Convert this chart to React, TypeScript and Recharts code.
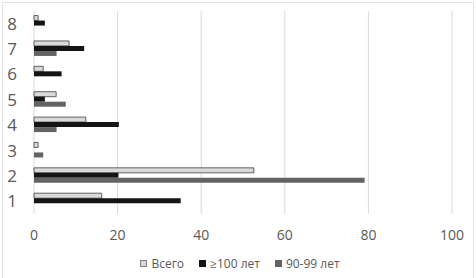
import React from 'react';
import { BarChart, Bar, XAxis, YAxis, CartesianGrid } from 'recharts';

const categories = ['1', '2', '3', '4', '5', '6', '7', '8'];
const vsego = [16.2, 52.6, 1, 12.4, 5.3, 2.2, 8.4, 1];
const over100 = [35.1, 20.2, 0, 20.3, 2.6, 6.6, 12, 2.6];
const age9099 = [0, 79.1, 2.2, 5.4, 7.6, 0, 5.4, 0];
const xTicks = [0, 20, 40, 60, 80, 100];

const seriesNames = ['Всего', '≥100 лет', '90-99 лет'];
const seriesColors = ['#d9d9d9', '#141414', '#636363'];
const seriesStrokes = ['#404040', 'none', 'none'];

const data = categories.map((c, i) => ({
  cat: c,
  a: vsego[i],
  b: over100[i],
  c: age9099[i],
}));

const FONT = '"Open Sans", "Liberation Sans", sans-serif';

export default function App() {
  return (
    <div style={{ position: 'absolute', left: 0, top: 0, width: 476, height: 278, overflow: 'hidden', background: '#fff' }}>
      <div style={{ position: 'absolute', left: 2, top: 2, width: 470, height: 300, border: '1px solid #e2e2e2' }} />
      <div style={{ position: 'absolute', left: 0, top: 0 }}>
        <BarChart
          width={476}
          height={278}
          data={data}
          layout="vertical"
          margin={{ top: 11, right: 24, left: 0, bottom: 34 }}
          barCategoryGap="18%"
          barGap={0}
        >
          <CartesianGrid horizontal={false} stroke="#d9d9d9" />
          <XAxis
            type="number"
            domain={[0, 100]}
            ticks={xTicks}
            axisLine={false}
            tickLine={false}
            tickSize={0}
            tickMargin={16}
            height={30}
            tick={{ fill: '#595959', fontSize: 14, fontFamily: FONT }}
            interval={0}
          />
          <YAxis
            type="category"
            dataKey="cat"
            reversed
            width={34}
            axisLine={false}
            tickLine={false}
            tickSize={0}
            tickMargin={17}
            tick={{ fill: '#595959', fontSize: 17, fontFamily: FONT }}
            interval={0}
          />
          <Bar dataKey="a" fill={seriesColors[0]} stroke={seriesStrokes[0]} strokeWidth={0.8} isAnimationActive={false} />
          <Bar dataKey="b" fill={seriesColors[1]} isAnimationActive={false} />
          <Bar dataKey="c" fill={seriesColors[2]} isAnimationActive={false} />
        </BarChart>
      </div>
      <div
        style={{
          position: 'absolute',
          left: 0,
          top: 255,
          width: 476,
          display: 'flex',
          justifyContent: 'center',
          alignItems: 'center',
          fontFamily: FONT,
          fontSize: 12,
          color: '#595959',
          paddingLeft: 4,
          boxSizing: 'border-box',
        }}
      >
        {seriesNames.map((n, i) => (
          <div key={n} style={{ display: 'flex', alignItems: 'center', marginRight: i < 2 ? 15 : 0 }}>
            <span
              style={{
                display: 'inline-block',
                width: 7,
                height: 7,
                background: seriesColors[i],
                border: i === 0 ? '1px solid #7f7f7f' : 'none',
                boxSizing: 'border-box',
                marginRight: 4,
              }}
            />
            <span>{n}</span>
          </div>
        ))}
      </div>
    </div>
  );
}
